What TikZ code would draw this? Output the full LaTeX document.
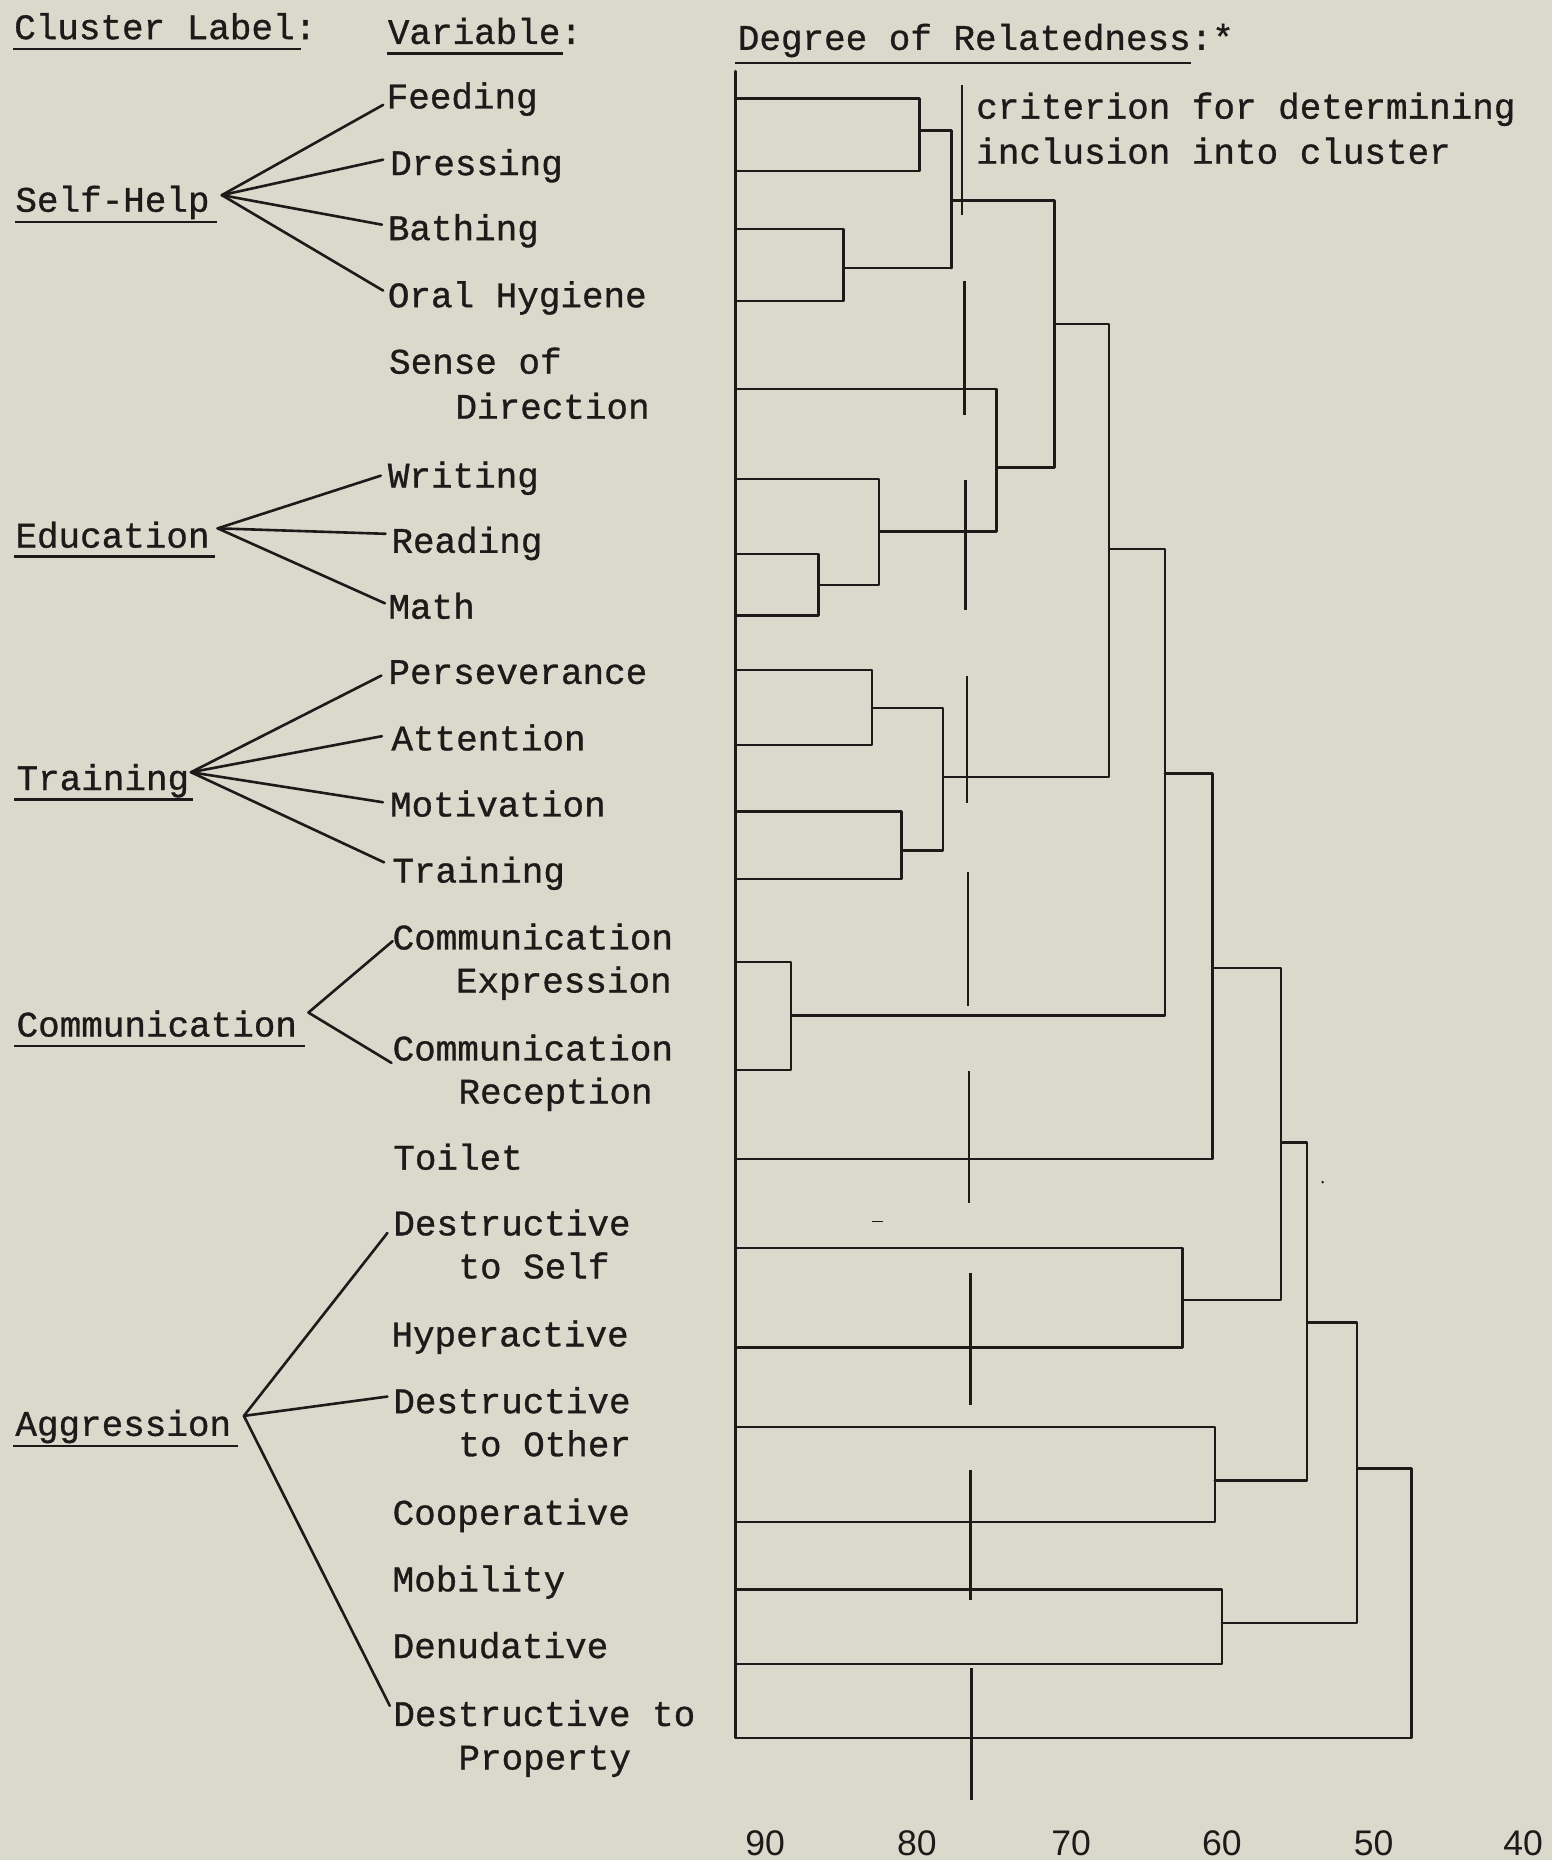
\documentclass[tikz,border=0pt]{standalone}
\usepackage{fontspec}
\setmainfont{Liberation Mono}
\newfontfamily\twf[FakeBold=0.9]{Liberation Mono}
\newfontfamily\axf{Liberation Sans}
\usetikzlibrary{calc}
\definecolor{bg}{RGB}{217,218,204}
\definecolor{ink}{RGB}{30,26,26}
\tikzset{
  var/.style={anchor=base west,inner sep=0pt,outer sep=0pt,text=ink,font=\twf\fontsize{30.3}{37}\selectfont},
  axl/.style={anchor=base,inner sep=0pt,outer sep=0pt,text=ink,font=\axf\fontsize{30}{36}\selectfont},
  den/.style={draw=ink,line width=2pt,line cap=round,line join=round},
  crit/.style={draw=ink,line width=2pt},
  fan/.style={draw=ink,line width=2.2pt,line cap=round},
  ul/.style={draw=ink,line width=2pt}
}
\begin{document}
\begin{tikzpicture}[x=1pt,y=-1pt]
\fill[bg] (0,0) rectangle (1308,1568);
\useasboundingbox (0,0) rectangle (1308,1568);

% headers
\node[var] (hCL) at (12,33) {Cluster Label:};
\node[var] (hVA) at (327,37) {Variable:};
\node[var] (hDR) at (622,42) {Degree of Relatedness:*};
\draw[ul] (11,41.5) -- (254,41.5);
\draw[ul] (326,45) -- (475,45);
\draw[ul] (620,53) -- (1004,53);

% criterion label
\node[var] (cr1) at (823,100) {criterion for determining};
\node[var] (cr2) at (823,138) {inclusion into cluster};

% variables
\node[var] (v1) at (326,91.4) {Feeding};
\node[var] (v2) at (329,147.6) {Dressing};
\node[var] (v3) at (327,202.4) {Bathing};
\node[var] (v4) at (327,259) {Oral Hygiene};
\node[var] (v5) at (328,315) {Sense of};
\node[var] (v5b) at (384,353) {Direction};
\node[var] (v6) at (327,411) {Writing};
\node[var] (v7) at (330,466) {Reading};
\node[var] (v8) at (327.5,521.6) {Math};
\node[var] (v9) at (327.5,576.5) {Perseverance};
\node[var] (v10) at (330,632.6) {Attention};
\node[var] (v11) at (328.8,688.3) {Motivation};
\node[var] (v12) at (330.8,744) {Training};
\node[var] (v13) at (331,800.4) {Communication};
\node[var] (v13b) at (384.4,836.7) {Expression};
\node[var] (v14) at (331,894) {Communication};
\node[var] (v14b) at (386.5,930.3) {Reception};
\node[var] (v15) at (331.6,986) {Toilet};
\node[var] (v16) at (331.6,1041.4) {Destructive};
\node[var] (v16b) at (386.5,1077.7) {to Self};
\node[var] (v17) at (330,1135) {Hyperactive};
\node[var] (v18) at (331.6,1191.3) {Destructive};
\node[var] (v18b) at (386.5,1227.6) {to Other};
\node[var] (v19) at (331,1285.3) {Cooperative};
\node[var] (v20) at (331,1341.5) {Mobility};
\node[var] (v21) at (331,1397.7) {Denudative};
\node[var] (v22) at (331.6,1455) {Destructive to};
\node[var] (v22b) at (386.5,1491.7) {Property};

% clusters
\node[var] (cSH) at (13,178.5) {Self-Help};
\node[var] (cED) at (13,461.6) {Education};
\node[var] (cTR) at (14,666) {Training};
\node[var] (cCO) at (14,873.8) {Communication};
\node[var] (cAG) at (13,1210.4) {Aggression};
\draw[ul] (13,187) -- (183,187);
\draw[ul] (12,469) -- (181.5,469);
\draw[ul] (12,674) -- (163,674);
\draw[ul] (12,882) -- (257,882);
\draw[ul] (11,1219) -- (201,1219);

% fan points
\coordinate (fSH) at (187,164.5);
\coordinate (fED) at (183.5,445.4);
\coordinate (fTR) at (161,651);
\coordinate (fCO) at (260,853.6);
\coordinate (fAG) at (205.6,1193.6);

\draw[fan] (fSH) -- ($(v1.base west)+(-3,-3)$);
\draw[fan] (fSH) -- ($(v2.base west)+(-6,-13)$);
\draw[fan] (fSH) -- ($(v3.base west)+(-5,-13)$);
\draw[fan] (fSH) -- ($(v4.base west)+(-4,-14)$);
\draw[fan] (fED) -- ($(v6.base west)+(-6,-10)$);
\draw[fan] (fED) -- ($(v7.base west)+(-5,-16)$);
\draw[fan] (fED) -- ($(v8.base west)+(-3,-13)$);
\draw[fan] (fTR) -- ($(v9.base west)+(-6,-7)$);
\draw[fan] (fTR) -- ($(v10.base west)+(-8,-12)$);
\draw[fan] (fTR) -- ($(v11.base west)+(-6,-12)$);
\draw[fan] (fTR) -- ($(v12.base west)+(-7,-17)$);
\draw[fan] (fCO) -- ($(v13.base west)+(0,-7)$);
\draw[fan] (fCO) -- ($(v14.base west)+(-1,2)$);
\draw[fan] (fAG) -- ($(v16.base west)+(-5,-2)$);
\draw[fan] (fAG) -- ($(v18.base west)+(-5,-14)$);
\draw[fan] (fAG) -- ($(v22.base west)+(-3,-17)$);

% dendrogram
\draw[den] (620,60) -- (620,1465) -- (1190,1465) -- (1190,1238) -- (1144,1238);
\draw[den] (620,83) -- (775,83) -- (775,144) -- (620,144);
\draw[den] (775,110) -- (802,110);
\draw[den] (620,193) -- (711,193) -- (711,254) -- (620,254);
\draw[den] (711,226) -- (802,226);
\draw[den] (802,110) -- (802,226);
\draw[den] (802,169) -- (889,169) -- (889,394) -- (840,394);
\draw[den] (620,328) -- (840,328) -- (840,448) -- (741,448);
\draw[den] (620,404) -- (741,404) -- (741,493) -- (690,493);
\draw[den] (620,467) -- (690,467) -- (690,519) -- (620,519);
\draw[den] (889,273) -- (935,273) -- (935,655) -- (795,655);
\draw[den] (620,565) -- (735,565) -- (735,628) -- (620,628);
\draw[den] (735,597) -- (795,597) -- (795,717) -- (760,717);
\draw[den] (620,684) -- (760,684) -- (760,741) -- (620,741);
\draw[den] (935,463) -- (982,463) -- (982,856) -- (667,856);
\draw[den] (620,811) -- (667,811) -- (667,902) -- (620,902);
\draw[den] (982,652) -- (1022,652) -- (1022,977) -- (620,977);
\draw[den] (1022,816) -- (1080,816) -- (1080,1096) -- (997,1096);
\draw[den] (620,1052) -- (997,1052) -- (997,1136) -- (620,1136);
\draw[den] (1080,963) -- (1102,963) -- (1102,1248) -- (1024,1248);
\draw[den] (620,1203) -- (1024,1203) -- (1024,1283) -- (620,1283);
\draw[den] (1102,1115) -- (1144,1115) -- (1144,1368) -- (1030,1368);
\draw[den] (620,1340) -- (1030,1340) -- (1030,1403) -- (620,1403);

% criterion line segments
\draw[crit] (811,72) -- (811,181);
\draw[crit] (813,237) -- (813,350);
\draw[crit] (814,405) -- (814,514);
\draw[crit] (815,570) -- (815,677);
\draw[crit] (816,735) -- (816,848);
\draw[crit] (817,903) -- (817,1014);
\draw[crit] (818,1073) -- (818,1184);
\draw[crit] (818,1239) -- (818,1349);
\draw[crit] (819,1406) -- (819,1517);

% stray marks
\draw[ink,line width=1.5pt] (735.5,1029.7) -- (744.7,1029.7);
\fill[ink] (1115,996.5) circle (1.2);

% axis labels
\node[axl] (a90) at (645,1564) {90};
\node[axl] (a80) at (773,1564) {80};
\node[axl] (a70) at (903,1564) {70};
\node[axl] (a60) at (1030,1564) {60};
\node[axl] (a50) at (1158,1564) {50};
\node[axl] (a40) at (1284,1564) {40};
\end{tikzpicture}
\end{document}
